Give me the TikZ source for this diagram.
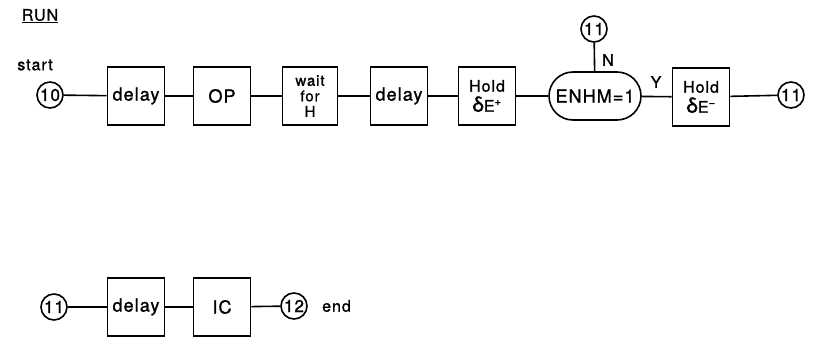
\documentclass[tikz,border=0pt]{standalone}
\usepackage{fontspec}
\setmainfont{TeX Gyre Heros}
\newfontfamily\spaced[LetterSpace=6,FakeBold=1.2]{TeX Gyre Heros}
\usetikzlibrary{shapes.misc}
\begin{document}
\begin{tikzpicture}[x=1pt,y=-1pt,
  every node/.style={inner sep=0pt},
  blk/.style={draw,line width=1.6pt,minimum width=57pt,minimum height=58pt,align=center,font=\spaced\fontsize{18}{19}\selectfont},
  conn/.style={draw,circle,line width=1.6pt,minimum size=26pt,font=\spaced\fontsize{17}{17}\selectfont},
  pill/.style={draw,rounded rectangle,line width=1.6pt,minimum width=92pt,minimum height=48pt,font=\spaced\fontsize{18}{19}\selectfont},
  lbl/.style={font=\spaced\fontsize{16}{16}\selectfont},
  link/.style={line width=1.6pt}]
\useasboundingbox (0,0) rectangle (821,337);
% title
\node[lbl] (run) at (40,16) {\underline{RUN}};
\node[lbl] (start) at (35,65) {start};
% row 1
\node[conn] (c10) at (50,95) {10};
\node[blk] (d1) at (136,96) {delay};
\node[blk] (op) at (222,96) {OP};
\node[blk,minimum width=55pt,font=\spaced\fontsize{15}{15.5}\selectfont] (wait) at (310,96) {wait\\for\\H};
\node[blk] (d2) at (399,96) {delay};
\node[blk,font=\spaced\fontsize{16}{17}\selectfont] (hp) at (487,96) {Hold\\[3pt]{\fontsize{21}{21}\selectfont δ}E\textsuperscript{+}};
\node[pill] (enhm) at (595,96) {ENHM=1};
\node[conn] (c11t) at (594,29) {11};
\node[blk,font=\spaced\fontsize{16}{17}\selectfont] (hm) at (701,97) {Hold\\[3pt]{\fontsize{21}{21}\selectfont δ}E\textsuperscript{−}};
\node[conn] (c11r) at (791,95) {11};
\node[lbl] (n) at (608,60) {N};
\node[lbl] (y) at (656,82) {Y};
\draw[link] (c10) -- (d1);
\draw[link] (d1) -- (op);
\draw[link] (op) -- (wait);
\draw[link] (wait) -- (d2);
\draw[link] (d2) -- (hp);
\draw[link] (hp) -- (enhm);
\draw[link] (enhm) -- (hm);
\draw[link] (c11t) -- (enhm);
\draw[link] (hm) -- (c11r);
% row 2
\node[conn] (c11b) at (54,307) {11};
\node[blk] (d3) at (136,307) {delay};
\node[blk] (ic) at (222,307) {IC};
\node[conn] (c12) at (294,306) {12};
\node[lbl,anchor=west] (end) at (322,306) {end};
\draw[link] (c11b) -- (d3);
\draw[link] (d3) -- (ic);
\draw[link] (ic) -- (c12);
\end{tikzpicture}
\end{document}
